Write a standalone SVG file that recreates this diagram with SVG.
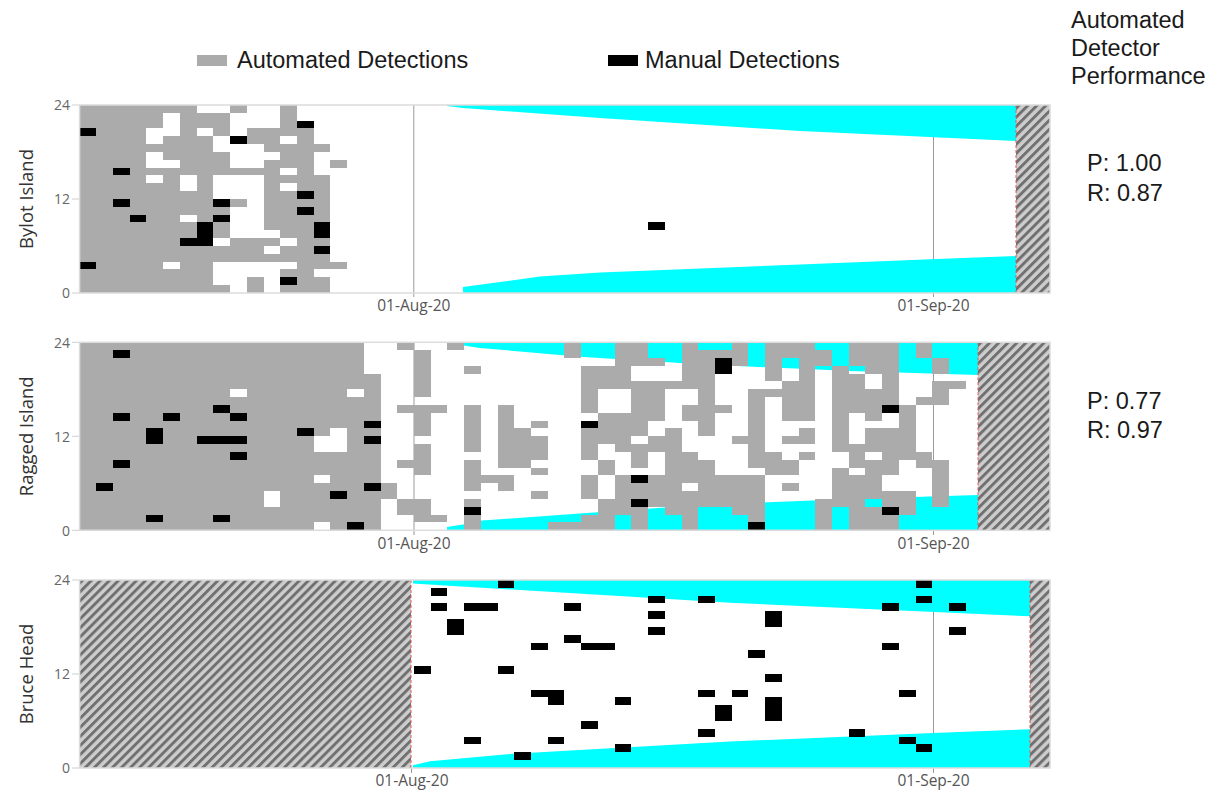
<svg xmlns="http://www.w3.org/2000/svg" width="1212" height="799" viewBox="0 0 1212 799">
<defs>
<pattern id="hatch" patternUnits="userSpaceOnUse" width="6.4" height="6.4" patternTransform="rotate(45)">
<rect width="6.4" height="6.4" fill="#cdcdcd"/><rect width="2.9" height="6.4" fill="#707070"/>
</pattern>
<style>
.g rect{fill:#ababab}
.k rect{fill:#000}
.w rect{fill:#fff}
.cy{fill:#00ffff}
.hatch{fill:url(#hatch)}
.frame{fill:none;stroke:#dcdcdc;stroke-width:1.5}
.vl{stroke:#9a9a9a;stroke-width:1}
.red{stroke:#e05a5a;stroke-width:1;stroke-dasharray:3 2}
.ytk{stroke:#cfcfcf;stroke-width:1}
.tick{font-family:'Open Sans','Noto Sans',sans-serif;font-size:14px;fill:#666;text-anchor:end}
.date{font-family:'Open Sans','Noto Sans',sans-serif;font-size:15.5px;fill:#555;text-anchor:middle}
.ytitle{font-family:'Open Sans','Noto Sans',sans-serif;font-size:18.5px;fill:#333;text-anchor:middle}
.leg{font-family:'Liberation Sans',Arial,sans-serif;font-size:23.5px;fill:#1a1a1a}
</style>
</defs>
<rect width="1212" height="799" fill="#fff"/>

<g id="legend">
<rect x="197" y="55" width="30" height="11" fill="#ababab"/>
<text class="leg" x="237" y="68">Automated Detections</text>
<rect x="608" y="55" width="30" height="11" fill="#000"/>
<text class="leg" x="645" y="68">Manual Detections</text>
</g>

<g id="perf-title">
<text class="leg" x="1071" y="28">Automated</text>
<text class="leg" x="1071" y="56">Detector</text>
<text class="leg" x="1071" y="84">Performance</text>
</g>

<!-- Panel 1: Bylot Island -->
<g id="panel-bylot">
<rect x="79.6" y="105" width="970.4" height="188" fill="#fff"/>
<rect class="hatch" x="1016" y="105" width="34" height="188"/>
<line class="vl" x1="413.8" y1="105" x2="413.8" y2="297"/>
<line class="vl" x1="933.5" y1="105" x2="933.5" y2="297"/>
<polygon class="cy" points="447,105 1016,105 1016,141 800,131 600,118 463,108 447,106"/>
<polygon class="cy" points="463,293 463,287 500,282 540,276.5 600,272.5 663,270 800,264.5 937,259 1016,256 1016,293"/>
<g transform="translate(79.6,105) scale(16.72,7.83)" shape-rendering="crispEdges">
<g class="g">
<rect x="0" y="0" width="4" height="24"/>
<rect x="4" y="0" width="1" height="3"/><rect x="4" y="5" width="1" height="1"/><rect x="4" y="8" width="1" height="1"/><rect x="4" y="10" width="1" height="14"/>
<rect x="5" y="0" width="1" height="1"/><rect x="5" y="4" width="1" height="3"/><rect x="5" y="8" width="1" height="12"/><rect x="5" y="21" width="1" height="3"/>
<rect x="6" y="0" width="1" height="9"/><rect x="6" y="11" width="1" height="3"/><rect x="6" y="15" width="1" height="9"/>
<rect x="7" y="1" width="1" height="2"/><rect x="7" y="4" width="1" height="20"/>
<rect x="8" y="1" width="1" height="3"/><rect x="8" y="6" width="1" height="3"/><rect x="8" y="12" width="1" height="5"/><rect x="8" y="18" width="1" height="2"/><rect x="8" y="23" width="1" height="1"/>
<rect x="9" y="0" width="1" height="1"/><rect x="9" y="8" width="1" height="1"/><rect x="9" y="12" width="1" height="1"/><rect x="9" y="17" width="1" height="3"/>
<rect x="10" y="3" width="1" height="2"/><rect x="10" y="8" width="1" height="1"/><rect x="10" y="17" width="1" height="3"/><rect x="10" y="22" width="1" height="2"/>
<rect x="11" y="3" width="1" height="3"/><rect x="11" y="7" width="1" height="9"/><rect x="11" y="17" width="1" height="1"/><rect x="11" y="19" width="1" height="1"/>
<rect x="12" y="0" width="1" height="4"/><rect x="12" y="5" width="1" height="3"/><rect x="12" y="9" width="1" height="1"/><rect x="12" y="11" width="1" height="6"/><rect x="12" y="18" width="1" height="2"/><rect x="12" y="21" width="1" height="1"/><rect x="12" y="23" width="1" height="1"/>
<rect x="13" y="3" width="1" height="21"/>
<rect x="14" y="5" width="1" height="1"/><rect x="14" y="9" width="1" height="12"/><rect x="14" y="22" width="1" height="2"/>
<rect x="15" y="7" width="1" height="1"/><rect x="15" y="20" width="1" height="1"/>
</g>
<g class="k">
<rect x="0" y="3" width="1" height="1"/><rect x="0" y="20" width="1" height="1"/>
<rect x="2" y="8" width="1" height="1"/><rect x="2" y="12" width="1" height="1"/><rect x="3" y="14" width="1" height="1"/>
<rect x="6" y="17" width="1" height="1"/><rect x="7" y="15" width="1" height="3"/>
<rect x="8" y="12" width="1" height="1"/><rect x="8" y="14" width="1" height="1"/><rect x="9" y="4" width="1" height="1"/>
<rect x="13" y="2" width="1" height="1"/><rect x="13" y="11" width="1" height="1"/><rect x="13" y="13" width="1" height="1"/>
<rect x="14" y="15" width="1" height="2"/><rect x="14" y="18" width="1" height="1"/><rect x="12" y="22" width="1" height="1"/>
<rect x="34" y="15" width="1" height="1"/>
</g>
</g>
<line class="red" x1="1016" y1="105" x2="1016" y2="293"/>
<rect class="frame" x="79.6" y="105" width="970.4" height="188"/>
<line class="ytk" x1="72" y1="105" x2="79" y2="105"/><line class="ytk" x1="72" y1="199" x2="79" y2="199"/><line class="ytk" x1="72" y1="293" x2="79" y2="293"/>
<text class="tick" x="70" y="110">24</text><text class="tick" x="70" y="204">12</text><text class="tick" x="70" y="298">0</text>
<text class="date" x="413.8" y="311">01-Aug-20</text>
<text class="date" x="933.5" y="311">01-Sep-20</text>
<text class="ytitle" transform="translate(33,199) rotate(-90)">Bylot Island</text>
<text class="leg" x="1087" y="171">P: 1.00</text>
<text class="leg" x="1087" y="201">R: 0.87</text>
</g>

<!-- Panel 2: Ragged Island -->
<g id="panel-ragged">
<rect x="79.6" y="342.3" width="970.4" height="188" fill="#fff"/>
<rect class="hatch" x="978" y="342.3" width="72" height="188"/>
<line class="vl" x1="414" y1="342.3" x2="414" y2="535"/>
<line class="vl" x1="933.5" y1="342.3" x2="933.5" y2="535"/>
<polygon class="cy" points="447,342.3 978,342.3 978,375 850,371 700,364.3 580,356.7 480,348 447,343"/>
<polygon class="cy" points="447,530.3 447,527 463,524.5 482,520.5 580,513.5 700,505 850,499 978,495 978,530.3"/>
<g transform="translate(79.6,342.3) scale(16.72,7.83)" shape-rendering="crispEdges">
<g class="g">
<rect x="0" y="0" width="18" height="24"/>
<rect x="18" y="18" width="1" height="2"/>
<rect x="19" y="0" width="1" height="1"/><rect x="19" y="8" width="1" height="1"/><rect x="19" y="15" width="1" height="1"/><rect x="19" y="20" width="1" height="2"/>
<rect x="20" y="1" width="1" height="6"/><rect x="20" y="8" width="1" height="4"/><rect x="20" y="13" width="1" height="4"/><rect x="20" y="20" width="1" height="3"/>
<rect x="21" y="8" width="1" height="1"/><rect x="21" y="22" width="1" height="1"/>
<rect x="22" y="0" width="1" height="1"/>
<rect x="23" y="3" width="1" height="1"/><rect x="23" y="8" width="1" height="6"/><rect x="23" y="15" width="1" height="4"/><rect x="23" y="20" width="1" height="1"/><rect x="23" y="22" width="1" height="2"/>
<rect x="24" y="17" width="1" height="1"/>
<rect x="25" y="8" width="1" height="8"/><rect x="25" y="17" width="1" height="2"/>
<rect x="26" y="11" width="1" height="5"/>
<rect x="27" y="10" width="1" height="1"/><rect x="27" y="12" width="1" height="3"/><rect x="27" y="16" width="1" height="1"/><rect x="27" y="19" width="1" height="1"/>
<rect x="28" y="23" width="1" height="1"/>
<rect x="29" y="0" width="1" height="2"/><rect x="29" y="23" width="1" height="1"/>
<rect x="30" y="3" width="1" height="6"/><rect x="30" y="11" width="1" height="4"/><rect x="30" y="17" width="1" height="3"/><rect x="30" y="22" width="1" height="2"/>
<rect x="31" y="3" width="1" height="3"/><rect x="31" y="9" width="1" height="4"/><rect x="31" y="15" width="1" height="2"/><rect x="31" y="20" width="1" height="4"/>
<rect x="32" y="0" width="1" height="6"/><rect x="32" y="9" width="1" height="5"/><rect x="32" y="17" width="1" height="5"/>
<rect x="33" y="0" width="1" height="3"/><rect x="33" y="5" width="1" height="7"/><rect x="33" y="13" width="1" height="3"/><rect x="33" y="18" width="1" height="2"/><rect x="33" y="21" width="1" height="3"/>
<rect x="34" y="2" width="1" height="1"/><rect x="34" y="5" width="1" height="5"/><rect x="34" y="12" width="1" height="2"/><rect x="34" y="17" width="1" height="4"/>
<rect x="35" y="5" width="1" height="1"/><rect x="35" y="11" width="1" height="11"/>
<rect x="36" y="0" width="1" height="6"/><rect x="36" y="8" width="1" height="2"/><rect x="36" y="14" width="1" height="4"/><rect x="36" y="19" width="1" height="5"/>
<rect x="37" y="1" width="1" height="11"/><rect x="37" y="15" width="1" height="6"/>
<rect x="38" y="1" width="1" height="1"/><rect x="38" y="8" width="1" height="1"/><rect x="38" y="17" width="1" height="4"/>
<rect x="39" y="0" width="1" height="3"/><rect x="39" y="12" width="1" height="1"/><rect x="39" y="17" width="1" height="5"/>
<rect x="40" y="6" width="1" height="10"/><rect x="40" y="17" width="1" height="6"/>
<rect x="41" y="0" width="1" height="5"/><rect x="41" y="6" width="1" height="1"/><rect x="41" y="14" width="1" height="3"/>
<rect x="42" y="0" width="1" height="2"/><rect x="42" y="5" width="1" height="5"/><rect x="42" y="12" width="1" height="1"/><rect x="42" y="15" width="1" height="2"/><rect x="42" y="18" width="1" height="1"/>
<rect x="43" y="0" width="1" height="10"/><rect x="43" y="11" width="1" height="2"/><rect x="43" y="14" width="1" height="1"/>
<rect x="44" y="1" width="1" height="2"/><rect x="44" y="20" width="1" height="4"/>
<rect x="45" y="3" width="1" height="11"/><rect x="45" y="16" width="1" height="5"/>
<rect x="46" y="0" width="1" height="3"/><rect x="46" y="4" width="1" height="5"/><rect x="46" y="13" width="1" height="3"/><rect x="46" y="17" width="1" height="7"/>
<rect x="47" y="0" width="1" height="4"/><rect x="47" y="6" width="1" height="4"/><rect x="47" y="11" width="1" height="3"/><rect x="47" y="15" width="1" height="5"/><rect x="47" y="21" width="1" height="3"/>
<rect x="48" y="0" width="1" height="8"/><rect x="48" y="11" width="1" height="6"/><rect x="48" y="19" width="1" height="2"/><rect x="48" y="22" width="1" height="2"/>
<rect x="49" y="8" width="1" height="7"/><rect x="49" y="19" width="1" height="3"/>
<rect x="50" y="0" width="1" height="2"/><rect x="50" y="7" width="1" height="1"/><rect x="50" y="14" width="1" height="2"/>
<rect x="51" y="2" width="1" height="2"/><rect x="51" y="5" width="1" height="3"/><rect x="51" y="15" width="1" height="6"/>
<rect x="52" y="5" width="1" height="1"/>
</g>
<g class="w">
<rect x="9" y="6" width="1" height="1"/><rect x="16" y="6" width="1" height="1"/>
<rect x="14" y="12" width="1" height="2"/><rect x="15" y="11" width="1" height="3"/>
<rect x="11" y="19" width="1" height="2"/><rect x="14" y="17" width="1" height="1"/><rect x="14" y="23" width="1" height="1"/>
<rect x="17" y="0" width="1" height="4"/>
</g>
<g class="k">
<rect x="2" y="1" width="1" height="1"/><rect x="2" y="9" width="1" height="1"/><rect x="5" y="9" width="1" height="1"/>
<rect x="8" y="8" width="1" height="1"/><rect x="9" y="9" width="1" height="1"/><rect x="4" y="11" width="1" height="2"/>
<rect x="7" y="12" width="3" height="1"/><rect x="9" y="14" width="1" height="1"/><rect x="2" y="15" width="1" height="1"/>
<rect x="1" y="18" width="1" height="1"/><rect x="4" y="22" width="1" height="1"/><rect x="8" y="22" width="1" height="1"/>
<rect x="13" y="11" width="1" height="1"/><rect x="15" y="19" width="1" height="1"/><rect x="16" y="23" width="1" height="1"/>
<rect x="17" y="10" width="1" height="1"/><rect x="17" y="12" width="1" height="1"/><rect x="17" y="18" width="1" height="1"/>
<rect x="23" y="21" width="1" height="1"/><rect x="30" y="10" width="1" height="1"/><rect x="33" y="17" width="1" height="1"/>
<rect x="33" y="20" width="1" height="1"/><rect x="38" y="2" width="1" height="2"/><rect x="48" y="8" width="1" height="1"/>
<rect x="48" y="21" width="1" height="1"/><rect x="40" y="23" width="1" height="1"/>
</g>
</g>
<line class="red" x1="978" y1="342.3" x2="978" y2="530.3"/>
<rect class="frame" x="79.6" y="342.3" width="970.4" height="188"/>
<line class="ytk" x1="72" y1="342.3" x2="79" y2="342.3"/><line class="ytk" x1="72" y1="436.3" x2="79" y2="436.3"/><line class="ytk" x1="72" y1="530.3" x2="79" y2="530.3"/>
<text class="tick" x="70" y="347.5">24</text><text class="tick" x="70" y="441.5">12</text><text class="tick" x="70" y="535.5">0</text>
<text class="date" x="414" y="549">01-Aug-20</text>
<text class="date" x="933.5" y="549">01-Sep-20</text>
<text class="ytitle" transform="translate(33,436.3) rotate(-90)">Ragged Island</text>
<text class="leg" x="1087" y="409">P: 0.77</text>
<text class="leg" x="1087" y="438">R: 0.97</text>
</g>

<!-- Panel 3: Bruce Head -->
<g id="panel-bruce">
<rect x="79.6" y="580" width="970.4" height="188" fill="#fff"/>
<rect class="hatch" x="79.6" y="580" width="331.4" height="188"/>
<rect class="hatch" x="1030" y="580" width="20" height="188"/>
<line class="vl" x1="933.5" y1="580" x2="933.5" y2="773"/>
<line class="vl" x1="411.5" y1="768" x2="411.5" y2="773"/>
<polygon class="cy" points="413,580 1030,580 1030,616.3 730,602.7 413,583.5"/>
<polygon class="cy" points="413,768 413,765.3 430,761.3 513,753.7 633,747 730,741.5 933,733 1030,729.3 1030,768"/>
<g transform="translate(79.6,580) scale(16.72,7.83)" shape-rendering="crispEdges">
<g class="k">
<rect x="25" y="0" width="1" height="1"/><rect x="21" y="1" width="1" height="1"/><rect x="21" y="3" width="1" height="1"/>
<rect x="23" y="3" width="2" height="1"/><rect x="22" y="5" width="1" height="2"/><rect x="29" y="3" width="1" height="1"/>
<rect x="34" y="2" width="1" height="1"/><rect x="34" y="4" width="1" height="1"/><rect x="34" y="6" width="1" height="1"/>
<rect x="37" y="2" width="1" height="1"/><rect x="27" y="8" width="1" height="1"/><rect x="29" y="7" width="1" height="1"/>
<rect x="30" y="8" width="2" height="1"/><rect x="20" y="11" width="1" height="1"/><rect x="25" y="11" width="1" height="1"/>
<rect x="27" y="14" width="2" height="1"/><rect x="28" y="15" width="1" height="1"/><rect x="32" y="15" width="1" height="1"/>
<rect x="37" y="14" width="1" height="1"/><rect x="38" y="16" width="1" height="2"/><rect x="30" y="18" width="1" height="1"/>
<rect x="37" y="19" width="1" height="1"/><rect x="23" y="20" width="1" height="1"/><rect x="28" y="20" width="1" height="1"/>
<rect x="32" y="21" width="1" height="1"/><rect x="26" y="22" width="1" height="1"/>
<rect x="41" y="4" width="1" height="2"/><rect x="40" y="9" width="1" height="1"/><rect x="41" y="12" width="1" height="1"/>
<rect x="39" y="14" width="1" height="1"/><rect x="41" y="15" width="1" height="3"/>
<rect x="48" y="3" width="1" height="1"/><rect x="50" y="0" width="1" height="1"/><rect x="50" y="2" width="1" height="1"/>
<rect x="48" y="8" width="1" height="1"/><rect x="49" y="14" width="1" height="1"/><rect x="46" y="19" width="1" height="1"/>
<rect x="49" y="20" width="1" height="1"/><rect x="50" y="21" width="1" height="1"/>
<rect x="52" y="3" width="1" height="1"/><rect x="52" y="6" width="1" height="1"/>
</g>
</g>
<line class="red" x1="411" y1="580" x2="411" y2="768"/>
<line class="red" x1="1030" y1="580" x2="1030" y2="768"/>
<rect class="frame" x="79.6" y="580" width="970.4" height="188"/>
<line class="ytk" x1="72" y1="580" x2="79" y2="580"/><line class="ytk" x1="72" y1="674" x2="79" y2="674"/><line class="ytk" x1="72" y1="768" x2="79" y2="768"/>
<text class="tick" x="70" y="585">24</text><text class="tick" x="70" y="679">12</text><text class="tick" x="70" y="773">0</text>
<text class="date" x="412" y="786">01-Aug-20</text>
<text class="date" x="933.5" y="786">01-Sep-20</text>
<text class="ytitle" transform="translate(33,674) rotate(-90)">Bruce Head</text>
</g>
</svg>
